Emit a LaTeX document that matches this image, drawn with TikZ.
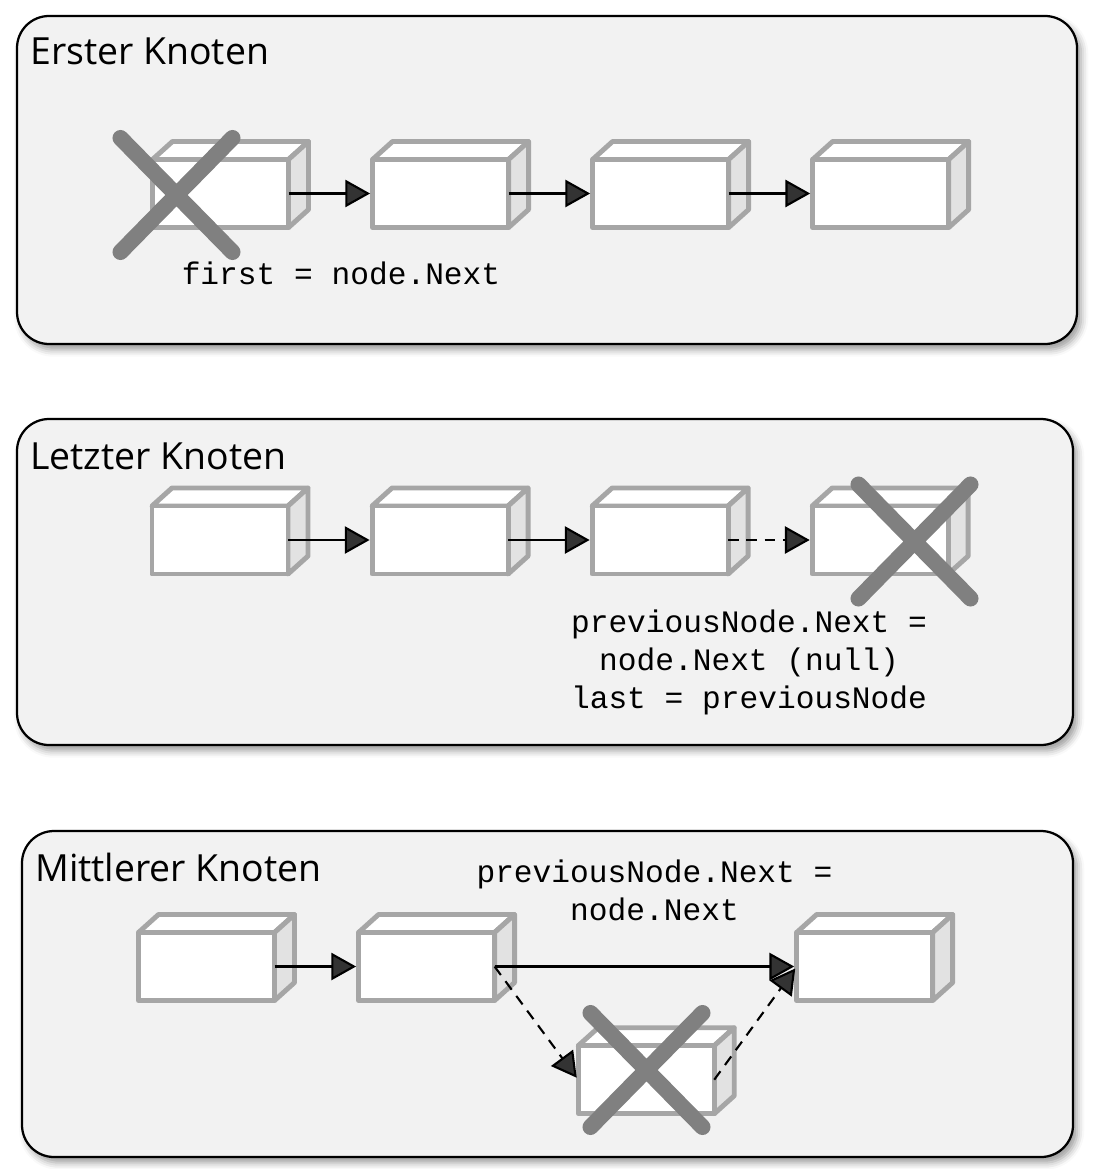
\documentclass[tikz,border=0pt]{standalone}
\usepackage{fontspec}
\setmainfont{Open Sans}
\newfontfamily\codefont{Liberation Mono}
\usetikzlibrary{positioning, arrows.meta, shadows.blur}

\definecolor{panelgray}{HTML}{F2F2F2}
\definecolor{boxgray}{HTML}{A6A6A6}
\definecolor{sidegray}{HTML}{E2E2E2}
\definecolor{crossgray}{HTML}{808080}

\begin{document}
\begin{tikzpicture}[
    x=0.025cm, y=-0.025cm,
    node distance=5.5cm, on grid,
    panel/.style = {draw, line width=1.6pt, fill=panelgray, rounded corners=0.8cm,
        blur shadow={shadow xshift=3pt, shadow yshift=-4pt, shadow blur radius=5pt, shadow opacity=40}},
    title/.style = {anchor=base west, inner sep=0pt, font=\fontsize{26.6}{32}\selectfont},
    code/.style = {anchor=base, align=center, inner sep=0pt, font=\codefont\fontsize{22.2}{27}\selectfont},
    box/.style = {draw=boxgray, fill=white, line width=3.5pt, line join=round, outer sep=0pt,
        minimum width=3.4cm, minimum height=1.7cm,
        append after command={\pgfextra{
            \filldraw[draw=boxgray, fill=white, line width=3.5pt, line join=round]
                (\tikzlastnode.north west) -- ++(0.5cm,0.45cm)
                -- ([shift={(0.5cm,0.45cm)}]\tikzlastnode.north east) -- (\tikzlastnode.north east) -- cycle;
            \filldraw[draw=boxgray, fill=sidegray, line width=3.5pt, line join=round]
                (\tikzlastnode.north east) -- ++(0.5cm,0.45cm)
                -- ([shift={(0.5cm,0.45cm)}]\tikzlastnode.south east) -- (\tikzlastnode.south east) -- cycle;
        }}},
    link/.style = {-{Triangle[length=0.62cm, width=0.68cm]}, line width=1.5pt, shorten >=1.75pt},
    gap/.style = {dash pattern=on 7.5pt off 5.5pt},
    cross/.style = {crossgray, line width=11.4pt, line cap=round}
]
\useasboundingbox (0,0) rectangle (1096,1169);

% panels
\draw[panel] (17,16) rectangle (1077,344);
\draw[panel] (17,419) rectangle (1073,745);
\draw[panel] (22,831) rectangle (1073,1157);

\node[title] (ersttitle) at (30,65) {Erster Knoten};
\node[title] (letzttitle) at (30,469) {Letzter Knoten};
\node[title] (mittetitle) at (35,881) {Mittlerer Knoten};

% erster Knoten
\node[box] (erst1) at (220.5,193.5) {};
\node[box, right=of erst1] (erst2) {};
\node[box, right=of erst2] (erst3) {};
\node[box, right=of erst3] (erst4) {};

\draw[link] (erst1.east) -- (erst2.west);
\draw[link] (erst2.east) -- (erst3.west);
\draw[link] (erst3.east) -- (erst4.west);

\node[code] (erstcode) at (341,284) {first = node.Next};

% letzter Knoten
\node[box] (letzt1) at (220,540) {};
\node[box, right=of letzt1] (letzt2) {};
\node[box, right=of letzt2] (letzt3) {};
\node[box, right=of letzt3] (letzt4) {};

\draw[link] (letzt1.east) -- (letzt2.west);
\draw[link] (letzt2.east) -- (letzt3.west);
\draw[link, gap] (letzt3.east) -- (letzt4.west);

\node[code] (letztcode) at (749,708) {previousNode.Next =\\node.Next (null)\\last = previousNode};

% mittlerer Knoten
\node[box] (mitte1) at (206.5,966.5) {};
\node[box, right=of mitte1] (mitte2) {};
\node[box, right=10.95cm of mitte2] (mitte3) {};
\node[box, below right=2.83cm and 5.49cm of mitte2] (gone) {};

\draw[link] (mitte1.east) -- (mitte2.west);
\draw[link] (mitte2.east) -- (mitte3.west);
\draw[link, gap] (mitte2.east) -- (gone.west);
\draw[link, gap] (gone.east) -- (mitte3.west);

\node[code] (mittecode) at (654.5,920) {previousNode.Next =\\node.Next};

% crosses
\draw[cross] (120.5,138) -- (232.5,252) (232.5,138) -- (120.5,252);
\draw[cross] (858.5,484.5) -- (970.5,598.5) (970.5,484.5) -- (858.5,598.5);
\draw[cross] (590.5,1013) -- (702.5,1127) (702.5,1013) -- (590.5,1127);

\end{tikzpicture}
\end{document}
